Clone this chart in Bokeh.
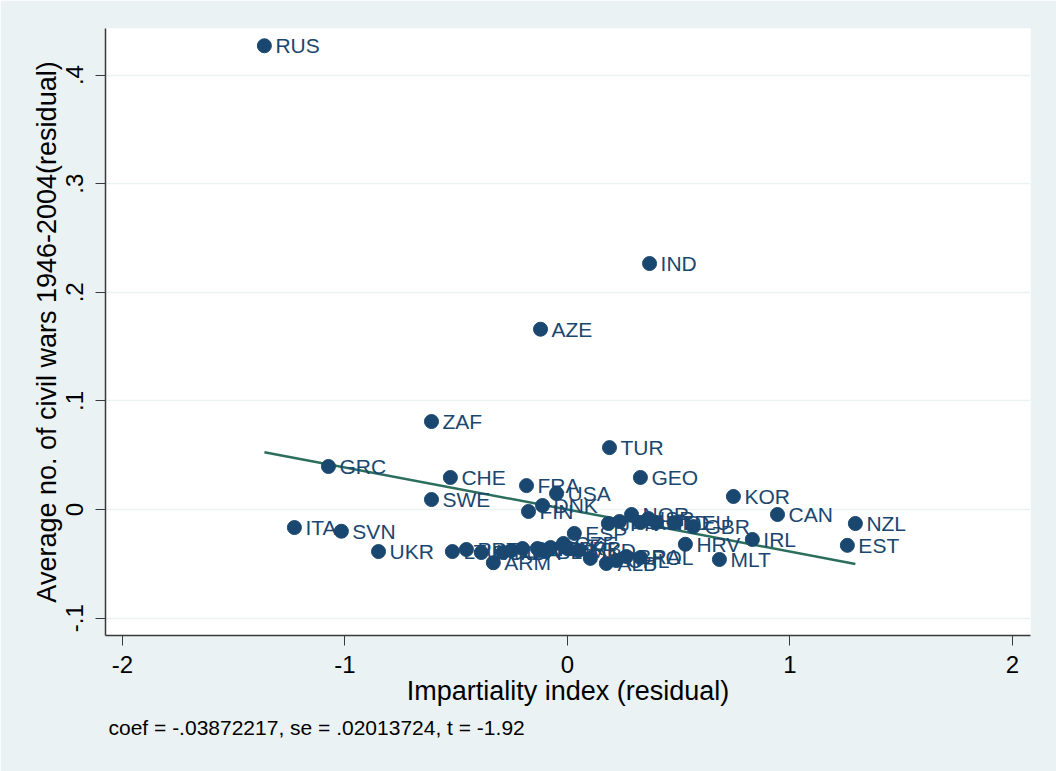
from bokeh.plotting import figure
from bokeh.models import ColumnDataSource, FixedTicker, Title, Range1d
from bokeh.embed import file_html
from bokeh.resources import INLINE

# ---- data ----
countries = ["RUS", "IND", "AZE", "ZAF", "TUR", "GEO", "GRC", "CHE", "FRA", "USA",
             "SWE", "DNK", "FIN", "KOR", "CAN", "NZL", "EST", "IRL", "MLT", "HRV",
             "GBR", "ITA", "SVN", "UKR", "ESP", "ARM",
             "JPN", "BEL", "NOR", "AUT", "ISR", "NLD", "DEU",
             "LTU", "PRT", "ROU", "MDA", "LVA", "BGR", "HUN", "BLR", "SVK", "CZE",
             "SRB", "MKD", "URY", "ALB", "CHL", "BRA", "POL"]
x_vals = [-1.362, 0.369, -0.121, -0.611, 0.189, 0.328, -1.074, -0.526, -0.184, -0.049,
          -0.611, -0.112, -0.175, 0.746, 0.944, 1.294, 1.258, 0.831, 0.683, 0.530,
          0.566, -1.227, -1.016, -0.849, 0.031, -0.333,
          0.184, 0.234, 0.288, 0.328, 0.364, 0.400, 0.485,
          -0.517, -0.454, -0.387, -0.290, -0.252, -0.202, -0.135, -0.099, -0.076, -0.018,
          0.000, 0.049, 0.103, 0.175, 0.220, 0.265, 0.328]
y_vals = [0.427, 0.2265, 0.166, 0.081, 0.057, 0.0295, 0.0396, 0.0295, 0.022, 0.0147,
          0.0092, 0.0037, -0.0018, 0.012, -0.0046, -0.0129, -0.033, -0.0276, -0.046, -0.032,
          -0.0157, -0.0166, -0.020, -0.0387, -0.022, -0.049,
          -0.0129, -0.011, -0.0046, -0.012, -0.0083, -0.012, -0.012,
          -0.0387, -0.0368, -0.0396, -0.0396, -0.0378, -0.0359, -0.0359, -0.0387, -0.035, -0.0313,
          -0.0359, -0.0378, -0.045, -0.0497, -0.047, -0.0433, -0.0442]
coef = -0.03872217
se = 0.02013724
t_stat = -1.92

x_ticks = [-2, -1, 0, 1, 2]
x_tick_labels = ["-2", "-1", "0", "1", "2"]
y_ticks = [-0.1, 0.0, 0.1, 0.2, 0.3, 0.4]
y_tick_labels = ["-.1", "0", ".1", ".2", ".3", ".4"]

x_title = "Impartiality index (residual)"
y_title = "Average no. of civil wars 1946-2004(residual)"
note = "coef = -.03872217, se = .02013724, t = -1.92"

# ---- style ----
BG = "#EAF2F3"
NAVY = "#1A476F"
LINE = "#2B6E5E"
FONT = "Liberation Sans"

p = figure(width=1056, height=771, output_backend="svg", toolbar_location=None,
           x_range=Range1d(-2.076, 2.081), y_range=Range1d(-0.116, 0.4429),
           min_border_left=105, min_border_right=26, min_border_top=28, min_border_bottom=136)
p.background_fill_color = "white"
p.border_fill_color = BG
p.outline_line_color = None

# regression line through the data range
xmin, xmax = min(x_vals), max(x_vals)
p.line([xmin, xmax], [coef * xmin, coef * xmax], line_color=LINE, line_width=2.5)

src = ColumnDataSource(dict(x=x_vals, y=y_vals, name=countries))
p.scatter("x", "y", source=src, size=14, fill_color=NAVY, line_color=NAVY)
p.text("x", "y", text="name", source=src, x_offset=11, text_baseline="middle",
       text_align="left", text_color=NAVY, text_font_size="21px",
       text_font={"value": FONT})

# axes
p.xaxis.ticker = FixedTicker(ticks=x_ticks)
p.xaxis.major_label_overrides = {t: l for t, l in zip(x_ticks, x_tick_labels)}
p.yaxis.ticker = FixedTicker(ticks=y_ticks)
p.yaxis.major_label_overrides = {t: l for t, l in zip(y_ticks, y_tick_labels)}
for ax in (p.xaxis[0], p.yaxis[0]):
    ax.axis_line_color = "#3a3a3a"
    ax.axis_line_width = 1.5
    ax.major_tick_line_color = "#3a3a3a"
    ax.major_tick_out = 10
    ax.major_tick_in = 0
    ax.minor_tick_line_color = None
    ax.major_label_text_font = FONT
    ax.major_label_text_font_size = "24px"
    ax.major_label_text_color = "black"
    ax.axis_label_text_font = FONT
    ax.axis_label_text_font_style = "normal"
    ax.axis_label_text_color = "black"
p.xaxis.axis_label = x_title
p.yaxis.axis_label = y_title
p.xaxis.axis_label_text_font_size = "27px"
p.yaxis.axis_label_text_font_size = "27px"
p.xaxis.major_label_standoff = 10
p.xaxis.axis_label_standoff = 0
p.yaxis.major_label_orientation = "vertical"
p.yaxis.major_label_standoff = 12
p.yaxis.axis_label_standoff = 2

p.xgrid.grid_line_color = None
p.ygrid.grid_line_color = BG
p.ygrid.grid_line_width = 1.5

p.add_layout(Title(text=note, align="left", offset=3, text_font=FONT,
                   text_font_size="21px", text_font_style="normal",
                   text_color="black", standoff=10), "below")

html = file_html(p, INLINE)
html = html.replace("<body>", '<body style="margin:0;background-color:%s">' % BG, 1)
open("out.html", "w").write(html)
